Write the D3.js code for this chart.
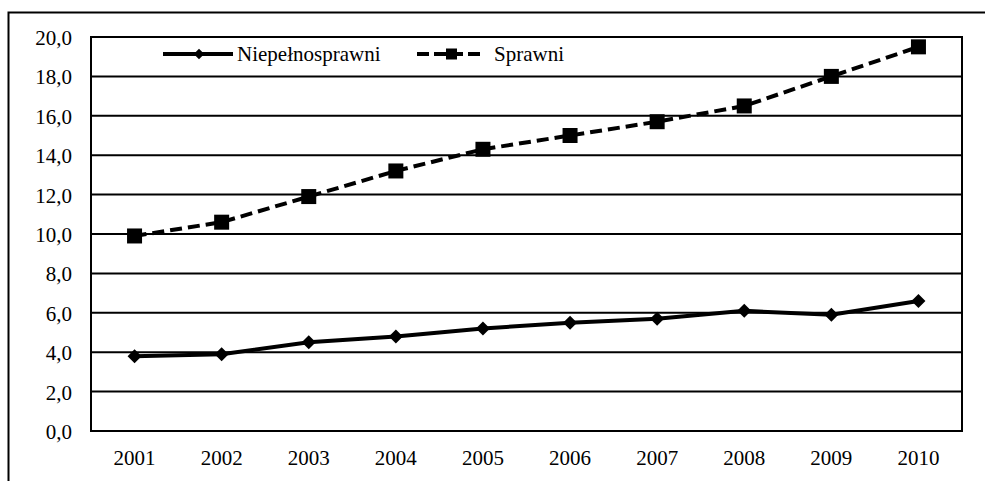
<!DOCTYPE html>
<html>
<head>
<meta charset="utf-8">
<script src="https://cdn.jsdelivr.net/npm/d3@7"></script>
<style>
  body { margin: 0; background: #fff; }
  svg text { font-family: "Liberation Serif", "Times New Roman", serif; fill: #000; }
</style>
</head>
<body>
<svg id="chart" width="985" height="481"></svg>
<script>
// data
const years = ["2001", "2002", "2003", "2004", "2005", "2006", "2007", "2008", "2009", "2010"];
const niepelnosprawni = [3.8, 3.9, 4.5, 4.8, 5.2, 5.5, 5.7, 6.1, 5.9, 6.6];
const sprawni = [9.9, 10.6, 11.9, 13.2, 14.3, 15.0, 15.7, 16.5, 18.0, 19.5];
const yTicks = [0, 2, 4, 6, 8, 10, 12, 14, 16, 18, 20];
const seriesNames = ["Niepełnosprawni", "Sprawni"];

const svg = d3.select("#chart");

// outer frame (runs off the right and bottom edge)
svg.append("rect")
  .attr("x", 8.5).attr("y", 12.5)
  .attr("width", 1000).attr("height", 500)
  .attr("fill", "none").attr("stroke", "#000").attr("stroke-width", 2);

const plot = { left: 91, top: 37, right: 962, bottom: 431 };

var x = d3.scaleBand().domain(years).range([plot.left, plot.right]);
var y = d3.scaleLinear().domain([0, 20]).range([plot.bottom, plot.top]);

const fmt = d => d3.format(".1f")(d).replace(".", ",");

// gridlines
svg.append("g")
  .selectAll("line")
  .data(yTicks)
  .enter()
  .append("line")
  .attr("x1", plot.left).attr("x2", plot.right)
  .attr("y1", d => y(d)).attr("y2", d => y(d))
  .attr("stroke", "#000").attr("stroke-width", 2);

// plot frame
svg.append("rect")
  .attr("x", plot.left).attr("y", plot.top)
  .attr("width", plot.right - plot.left).attr("height", plot.bottom - plot.top)
  .attr("fill", "none").attr("stroke", "#000").attr("stroke-width", 2);

// y axis labels
var yAxis = d3.axisLeft(y).tickValues(yTicks).tickFormat(fmt).tickSize(0).tickPadding(19);
svg.append("g")
  .attr("transform", "translate(" + plot.left + ",0)")
  .call(yAxis)
  .call(g => g.select(".domain").remove())
  .selectAll("text")
  .style("font-size", "21px")
  .attr("dy", "0.36em");

// x axis labels
var xAxis = d3.axisBottom(x).tickSize(0).tickPadding(19);
svg.append("g")
  .attr("transform", "translate(0," + plot.bottom + ")")
  .call(xAxis)
  .call(g => g.select(".domain").remove())
  .selectAll("text")
  .style("font-size", "21px");

const cx = d => x(d) + x.bandwidth() / 2;

var line = d3.line()
  .x(function (d, i) { return cx(years[i]); })
  .y(function (d) { return y(d); });

// Sprawni (dashed, squares)
svg.append("path")
  .datum(sprawni)
  .attr("d", line)
  .attr("fill", "none")
  .attr("stroke", "#000")
  .attr("stroke-width", 4)
  .attr("stroke-dasharray", "12,6");

svg.append("g")
  .selectAll("rect")
  .data(sprawni)
  .enter()
  .append("rect")
  .attr("x", (d, i) => cx(years[i]) - 7.5)
  .attr("y", d => y(d) - 7.5)
  .attr("width", 15).attr("height", 15)
  .attr("fill", "#000");

// Niepełnosprawni (solid, diamonds)
svg.append("path")
  .datum(niepelnosprawni)
  .attr("d", line)
  .attr("fill", "none")
  .attr("stroke", "#000")
  .attr("stroke-width", 4);

const diamond = "M0,-7L7,0L0,7L-7,0Z";
svg.append("g")
  .selectAll("path")
  .data(niepelnosprawni)
  .enter()
  .append("path")
  .attr("d", diamond)
  .attr("transform", (d, i) => "translate(" + cx(years[i]) + "," + y(d) + ")")
  .attr("fill", "#000");

// legend
const legY = 54;
const leg = svg.append("g");
leg.append("line")
  .attr("x1", 163).attr("x2", 233).attr("y1", legY).attr("y2", legY)
  .attr("stroke", "#000").attr("stroke-width", 4);
leg.append("path").attr("d", diamond).attr("transform", "translate(199," + legY + ") scale(0.75)");
leg.append("text")
  .attr("x", 237).attr("y", legY).attr("dy", "0.34em")
  .style("font-size", "21px").text(seriesNames[0]);

leg.append("line")
  .attr("x1", 417).attr("x2", 485).attr("y1", legY).attr("y2", legY)
  .attr("stroke", "#000").attr("stroke-width", 4)
  .attr("stroke-dasharray", "12,5");
leg.append("rect")
  .attr("x", 446).attr("y", legY - 5.5).attr("width", 11).attr("height", 11)
  .attr("fill", "#000");
leg.append("text")
  .attr("x", 494).attr("y", legY).attr("dy", "0.34em")
  .style("font-size", "21px").text(seriesNames[1]);
</script>
</body>
</html>
